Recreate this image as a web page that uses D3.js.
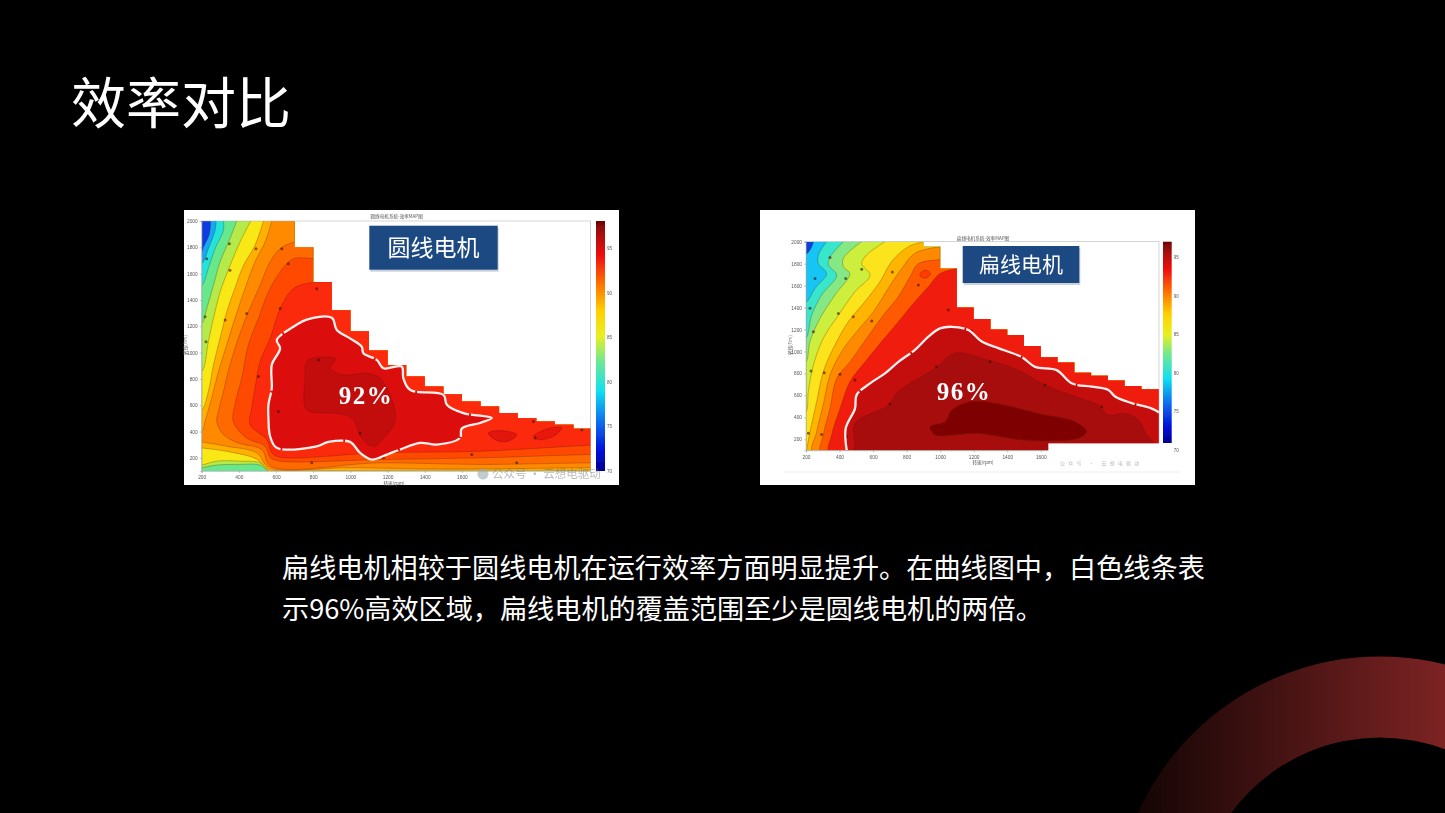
<!DOCTYPE html>
<html><head><meta charset="utf-8">
<script src="https://cdn.jsdelivr.net/npm/d3@7"></script>
<style>
html,body{margin:0;padding:0;background:#000;overflow:hidden}
svg{display:block}
text{font-family:"Noto Sans CJK SC","Noto Sans",sans-serif}
</style></head><body>
<svg id="c" width="1445" height="813"></svg>
<script>
// --- text
const titleText = "效率对比";
const bodyLines = ["扁线电机相较于圆线电机在运行效率方面明显提升。在曲线图中，白色线条表","示96%高效区域，扁线电机的覆盖范围至少是圆线电机的两倍。"];
// --- axes
const xTicks = [200,400,600,800,1000,1200,1400,1600];
const yTicks = [200,400,600,800,1000,1200,1400,1600,1800,2000];
const barTicks = [95,90,85,80,75,70];
const barStops = [[0,"#6e0505"],[0.06,"#b00c0c"],[0.14,"#f01010"],[0.26,"#ff7a00"],[0.36,"#ffd000"],[0.46,"#e8f020"],[0.56,"#70e890"],[0.68,"#10e0f0"],[0.8,"#1070f0"],[0.92,"#0010d8"],[1,"#000090"]];
// --- round-wire motor: torque limit by speed column
const roundLimit = [[200,2000],[700,2000],[800,1800],[900,1537],[1000,1322],[1100,1163],[1200,1015],[1300,906],[1400,818],[1500,742],[1600,684],[1700,629],[1800,591],[1900,540],[2000,503],[2100,477],[2200,452],[2300,422]];
// --- round-wire motor: contour curves [speed, torque]
const roundC1 = [[248,2000],[241,1900],[209,1800],[200,1765],[155,1750],[155,80],[2400,80]];
const roundC2 = [[277,2000],[272,1930],[236,1790],[200,1675],[155,1660],[155,80],[2400,80]];
const roundC3 = [[317,2000],[317,1930],[272,1790],[236,1640],[200,1510],[155,1500],[155,80],[2400,80]];
const roundC4 = [[388,2000],[352,1865],[299,1690],[263,1510],[227,1335],[200,1220],[155,1210],[155,120],[200,125],[280,145],[406,150],[514,145],[553,100],[560,80],[2400,80]];
const roundC5 = [[464,2000],[406,1840],[352,1660],[299,1460],[263,1260],[236,1085],[200,855],[155,850],[155,140],[200,145],[281,175],[406,175],[514,162],[559,100],[565,80],[2400,80]];
const roundC6 = [[532,2000],[487,1815],[424,1660],[379,1490],[335,1310],[299,1110],[263,905],[236,705],[200,565],[155,560],[155,280],[200,275],[352,245],[496,190],[559,110],[622,105],[1520,105],[2400,105]];
const roundC7 = [[577,2000],[541,1840],[487,1690],[433,1485],[379,1260],[335,1060],[290,855],[254,655],[218,477],[200,400],[155,395],[155,325],[200,320],[335,288],[496,238],[564,125],[980,125],[1520,115],[2293,125],[2400,125]];
const roundC8 = [[700,1840],[631,1800],[568,1690],[514,1510],[451,1310],[397,1108],[352,906],[317,704],[290,553],[281,477],[317,377],[397,313],[523,263],[571,137],[1160,162],[1698,150],[2293,162],[2400,162]];
const roundC9 = [[800,1713],[693,1713],[622,1612],[559,1461],[505,1259],[451,1057],[415,805],[379,604],[370,477],[442,351],[541,288],[571,200],[622,175],[1160,187],[1698,200],[2293,225],[2400,225]];
const roundC10 = [[900,1537],[783,1530],[693,1486],[622,1335],[568,1108],[514,931],[487,730],[469,578],[460,452],[550,339],[577,238],[622,205],[1160,238],[1698,250],[2293,296],[2400,300]];
const roundCurves = [roundC1,roundC2,roundC3,roundC4,roundC5,roundC6,roundC7,roundC8,roundC9,roundC10];
const roundColors = ["#12a8f5","#22e4dc","#66e88c","#b4ea48","#f8e814","#ffb000","#ff8a00","#ff6a00","#ff4a00","#fb2a0c"];
const roundBase = "#0b3ce0";
const roundWhite = [[774,1254],[900,1264],[927,1171],[998,1108],[1061,1045],[1070,995],[1142,944],[1178,881],[1276,894],[1285,805],[1321,717],[1501,679],[1519,604],[1608,540],[1761,503],[1698,465],[1599,422],[1590,351],[1465,301],[1375,313],[1267,263],[1196,225],[1115,187],[1052,238],[998,321],[882,321],[819,288],[604,276],[568,364],[559,503],[559,604],[577,730],[577,906],[622,1032],[604,1095],[693,1196]];
const roundCore = [[765,931],[819,962],[918,952],[891,881],[962,830],[1088,843],[1160,805],[1232,604],[1241,477],[1196,377],[1124,288],[1061,351],[1007,503],[909,540],[765,566],[756,805]];
const roundBlobA = [[1743,389],[1806,407],[1895,377],[1850,326],[1788,331]];
const roundBlobB = [[1985,364],[2075,427],[2137,427],[2093,364],[2012,339]];
const roundLabels = [[349,1827],[352,1625],[227,1713],[218,1272],[223,1083],[492,1789],[631,1789],[666,1675],[819,1486],[622,1335],[442,1297],[326,1247],[505,818],[613,553],[828,944],[792,162],[1052,389],[1985,477],[1994,351],[2245,414],[1653,225],[1895,162],[1178,200]];
// --- flat-wire motor: torque limit by speed column
const flatLimit = [[200,2000],[900,2000],[1000,1955],[1100,1757],[1200,1400],[1300,1295],[1400,1200],[1500,1150],[1600,1050],[1700,947],[1800,900],[1900,807],[2000,780],[2100,735],[2200,685],[2300,655],[2305,655]];
const flatC1 = [[246,2000],[224,1925],[200,1885],[160,1880],[160,80],[2400,80]];
const flatC2 = [[323,2000],[274,1880],[274,1800],[323,1710],[254,1575],[204,1450],[160,1420],[160,80],[2400,80]];
const flatC3 = [[423,2000],[343,1860],[333,1790],[383,1695],[293,1515],[234,1330],[200,1120],[160,1100],[160,80],[2400,80]];
const flatC4 = [[532,2000],[423,1850],[423,1770],[462,1710],[373,1515],[283,1300],[224,1090],[200,905],[160,880],[160,80],[2400,80]];
const flatC5 = [[671,2000],[562,1880],[532,1800],[582,1695],[492,1545],[393,1330],[303,1120],[244,875],[214,635],[200,450],[160,430],[160,80],[2400,80]];
const flatC6 = [[900,2000],[810,1955],[711,1820],[641,1635],[552,1455],[452,1270],[363,1030],[303,815],[264,545],[224,270],[204,100],[204,80],[2400,80]];
const flatC7 = [[1000,1955],[850,1895],[771,1755],[691,1575],[602,1360],[502,1180],[413,1000],[343,785],[303,515],[264,270],[244,60],[2400,60]];
const flatC8 = [[1000,1835],[870,1800],[820,1680],[751,1500],[661,1330],[562,1120],[462,905],[383,755],[343,480],[303,240],[293,60],[2400,60]];
const flatC9 = [[1100,1757],[1000,1710],[930,1590],[850,1455],[751,1270],[651,1090],[552,905],[462,725],[403,480],[353,240],[343,60],[2400,60]];
const flatCurves = [flatC1,flatC2,flatC3,flatC4,flatC5,flatC6,flatC7,flatC8,flatC9];
const flatColors = ["#14c4f6","#38e6cc","#84e884","#ccee3c","#fbe41a","#ffb400","#ff8a00","#ff5a00","#f01c10"];
const flatBase = "#0a40e0";
const flatWhite = [[443,100],[437,300],[492,480],[502,605],[582,710],[671,800],[751,905],[850,1015],[930,1135],[999,1210],[1069,1225],[1168,1195],[1248,1090],[1347,1030],[1486,950],[1566,860],[1695,830],[1784,710],[1904,680],[2003,650],[2043,590],[2142,530],[2262,480],[2305,445]];
const flatInner = [[492,150],[492,345],[691,510],[751,635],[969,845],[1089,985],[1287,920],[1466,830],[1625,695],[1804,590],[1943,510],[2003,420],[2102,435],[2182,375],[2232,240],[2271,170],[2271,60],[492,60]];
const flatCore = [[940,315],[1029,360],[1069,465],[1188,545],[1387,510],[1586,435],[1804,360],[1874,270],[1824,210],[1645,185],[1486,195],[1208,255],[1089,240],[969,240]];
const flatSpot = [[880,1710],[910,1740],[943,1710],[919,1670],[884,1680]];
const flatLabels = [[343,1855],[254,1665],[437,1665],[532,1750],[715,1725],[224,1393],[393,1347],[482,1317],[592,1277],[244,1180],[230,822],[309,807],[403,792],[492,740],[214,255],[293,245],[443,225],[701,522],[979,860],[1297,907],[1625,695],[1188,1186],[1049,1378],[870,1605],[1963,497],[2142,528]];

const svg = d3.select("#c");
const defs = svg.append("defs");
svg.append("rect").attr("width",1445).attr("height",813).attr("fill","#000");

// decorative ring (gradient coordinates are local to the translated arc)
const ringGrad = defs.append("linearGradient").attr("id","ring").attr("gradientUnits","userSpaceOnUse")
  .attr("x1",-250).attr("x2",65).attr("y1",0).attr("y2",0);
ringGrad.append("stop").attr("offset",0).attr("stop-color","#120404");
ringGrad.append("stop").attr("offset",1).attr("stop-color","#7d2323");
svg.append("path").attr("transform","translate(1380,922)")
  .attr("d",d3.arc().innerRadius(184.5).outerRadius(265.5).startAngle(-Math.PI/2).endAngle(Math.PI/2)())
  .attr("fill","url(#ring)");

svg.append("text").text(titleText).attr("x",71).attr("y",123).attr("font-size",55).attr("font-weight",400).attr("fill","#fff");
svg.selectAll("text.body").data(bodyLines).join("text").attr("class","body").text(d=>d)
  .attr("x",282).attr("y",(d,i)=>578+i*41).attr("font-size",27.15).attr("font-weight",400).attr("fill","#fff");

const blur = defs.append("filter").attr("id","soft").attr("x","-5%").attr("y","-5%").attr("width","110%").attr("height","110%");
blur.append("feGaussianBlur").attr("stdDeviation",0.7);
const barGrad = defs.append("linearGradient").attr("id","jet").attr("x1",0).attr("x2",0).attr("y1",0).attr("y2",1);
barStops.forEach(s=>barGrad.append("stop").attr("offset",s[0]).attr("stop-color",s[1]));

function drawPanel(cfg){
  svg.append("rect").attr("x",cfg.panel[0]).attr("y",cfg.panel[1]).attr("width",435).attr("height",275).attr("fill","#fff");
  const g = svg.append("g").attr("filter","url(#soft)");
  const x = d3.scaleLinear().domain(cfg.xDom).range(cfg.xRange);
  const y = d3.scaleLinear().domain([100,2000]).range(cfg.yRange);
  const smooth = d3.line().x(d=>x(d[0])).y(d=>y(d[1])).curve(d3.curveCatmullRom.alpha(0.5));
  const closed = d3.line().x(d=>x(d[0])).y(d=>y(d[1])).curve(d3.curveCatmullRomClosed.alpha(0.5));
  const step = d3.line().x(d=>x(d[0])).y(d=>y(d[1])).curve(d3.curveStepBefore);
  const id = "clip"+cfg.key;
  const last = cfg.limit[cfg.limit.length-1];
  const clipD = step(cfg.limit)+`L${x(last[0])},${y(100)}L${x(200)},${y(100)}Z`;
  defs.append("clipPath").attr("id",id).append("path").attr("d",clipD);
  const idp = "plot"+cfg.key;
  defs.append("clipPath").attr("id",idp).append("rect").attr("x",cfg.xRange[0]).attr("y",cfg.yRange[1]).attr("width",cfg.xRange[1]-cfg.xRange[0]).attr("height",cfg.yRange[0]-cfg.yRange[1]);
  const outer = g.append("g").attr("clip-path",`url(#${idp})`);
  const plot = outer.append("g").attr("clip-path",`url(#${id})`);
  plot.append("rect").attr("x",x(200)).attr("y",y(2000)).attr("width",x(cfg.xDom[1])-x(200)).attr("height",y(100)-y(2000)).attr("fill",cfg.base);
  const edge = {stroke:"#5a1400","stroke-width":0.5,"stroke-opacity":0.55};
  function shape(d,fill){const p=plot.append("path").attr("d",d).attr("fill",fill);Object.entries(edge).forEach(([k,v])=>p.attr(k,v));return p;}
  cfg.curves.forEach((c,i)=>{
    shape(smooth(c)+`L${x(2400)},${y(c[c.length-1][1])}L${x(2400)},${y(2100)}L${x(c[0][0])},${y(2100)}Z`,cfg.colors[i]);
  });
  cfg.fills.forEach(f=>{
    const d = f.open ? smooth(f.pts)+"Z" : closed(f.pts);
    shape(d,f.color);
  });
  plot.selectAll("circle").data(cfg.labels).join("circle").attr("cx",d=>x(d[0])).attr("cy",d=>y(d[1])).attr("r",1.5).attr("fill","#3a1000").attr("opacity",0.6);
  plot.append("path").attr("d",cfg.whiteClosed?closed(cfg.white):smooth(cfg.white)).attr("fill","none")
    .attr("stroke","#fdf0ee").attr("stroke-width",2.3).attr("stroke-dasharray","62 1.8");
  // frame and axes
  g.append("rect").attr("x",cfg.xRange[0]).attr("y",cfg.yRange[1]).attr("width",cfg.xRange[1]-cfg.xRange[0]).attr("height",cfg.yRange[0]-cfg.yRange[1]).attr("fill","none").attr("stroke","#aaa").attr("stroke-width",0.5);
  const ax = g.append("g").attr("transform",`translate(0,${cfg.yRange[0]})`).call(d3.axisBottom(x).tickValues(xTicks).tickSize(2).tickPadding(3).tickFormat(d3.format("d")));
  const ay = g.append("g").attr("transform",`translate(${cfg.xRange[0]},0)`).call(d3.axisLeft(y).tickValues(yTicks).tickSize(2).tickPadding(2).tickFormat(d3.format("d")));
  [ax,ay].forEach(a=>{a.select(".domain").attr("stroke","#999").attr("stroke-width",0.4);a.selectAll("line").attr("stroke","#777").attr("stroke-width",0.4);a.selectAll("text").attr("font-size",4.8).attr("fill","#555").style("font-family","'Liberation Sans'");});
  g.append("text").text(cfg.chartTitle).attr("x",cfg.titlePos[0]).attr("y",cfg.titlePos[1]).attr("text-anchor","middle").attr("font-size",4.6).attr("fill","#555");
  g.append("text").text("转速(rpm)").attr("x",cfg.xTitlePos[0]).attr("y",cfg.xTitlePos[1]).attr("text-anchor","middle").attr("font-size",4.6).attr("fill","#555");
  g.append("text").text("转矩(Nm)").attr("transform",`translate(${cfg.yTitlePos[0]},${cfg.yTitlePos[1]}) rotate(-90)`).attr("text-anchor","middle").attr("font-size",4.6).attr("fill","#555");
  // colour bar
  g.append("rect").attr("x",cfg.bar[0]).attr("y",cfg.bar[1]).attr("width",cfg.bar[2]).attr("height",cfg.bar[3]).attr("fill","url(#jet)");
  const by = d3.scaleLinear().domain([95,70]).range(cfg.barRange);
  const ab = g.append("g").attr("transform",`translate(${cfg.bar[0]+cfg.bar[2]},0)`).call(d3.axisRight(by).tickValues(barTicks).tickSize(0).tickPadding(2));
  ab.select(".domain").remove();
  ab.selectAll("text").attr("font-size",4.5).attr("fill","#555").style("font-family","'Liberation Sans'");
  // patch
  if(cfg.patch){
    g.append("rect").attr("x",x(cfg.patch[0])).attr("y",y(cfg.patch[1])).attr("width",cfg.xRange[1]-x(cfg.patch[0])+1).attr("height",cfg.panel[1]+275-y(cfg.patch[1])-12).attr("fill","#fff");
    g.append("line").attr("x1",cfg.panel[0]+24).attr("x2",cfg.panel[0]+420).attr("y1",472).attr("y2",472).attr("stroke","#eee").attr("stroke-width",1);
    g.append("text").text("公众号 · 云想电驱动").attr("x",cfg.panel[0]+300).attr("y",465).attr("font-size",5).attr("letter-spacing",3.2).attr("fill","#bbb");
  }
  if(cfg.mark){
    g.append("circle").attr("cx",cfg.mark[0]).attr("cy",cfg.mark[1]).attr("r",5.5).attr("fill","#9aa").attr("opacity",0.6);
    g.append("text").text("公众号 · 云想电驱动").attr("x",cfg.mark[0]+9).attr("y",cfg.mark[1]+4).attr("font-size",11.5).attr("fill","#777").attr("opacity",0.5);
  }
  // badge
  const b = cfg.badge;
  g.append("rect").attr("x",b[0]+1).attr("y",b[1]+2).attr("width",b[2]).attr("height",b[3]).attr("fill","#9aa4b4").attr("opacity",0.5);
  g.append("rect").attr("x",b[0]).attr("y",b[1]).attr("width",b[2]).attr("height",b[3]).attr("fill","#1f4a82");
  g.append("text").text(cfg.badgeText).attr("x",b[0]+b[2]/2).attr("y",b[1]+b[3]/2+b[4]*0.36).attr("text-anchor","middle").attr("font-size",b[4]).attr("font-weight",400).attr("fill","#fff");
  // percent
  g.append("text").text(cfg.pct).attr("x",cfg.pctPos[0]).attr("y",cfg.pctPos[1]).attr("text-anchor","middle").attr("font-size",25).attr("font-weight",700).attr("letter-spacing",1.5).attr("fill","#fff").style("font-family","'Liberation Serif'");
}

drawPanel({key:"a",panel:[184,210],xDom:[200,2293],xRange:[201.7,590.7],yRange:[471,221],limit:roundLimit,
  base:roundBase,curves:roundCurves,colors:roundColors,
  fills:[{pts:roundWhite,color:"#dc100c"},{pts:roundCore,color:"#c30f0e"},{pts:roundBlobA,color:"#e2130c"},{pts:roundBlobB,color:"#e8160c"}],
  white:roundWhite,whiteClosed:true,labels:roundLabels,
  chartTitle:"圆线电机系统-效率MAP图",titlePos:[396.7,218],xTitlePos:[394,484.5],yTitlePos:[187,345],
  bar:[596,221,9,250],barRange:[248,471],badge:[369.3,225.7,128.4,44,23],badgeText:"圆线电机",
  pct:"92%",pctPos:[366,404],mark:[483,474]});

drawPanel({key:"b",panel:[760,210],xDom:[200,2305],xRange:[806,1159],yRange:[450.3,241.7],limit:flatLimit,
  base:flatBase,curves:flatCurves,colors:flatColors,
  fills:[{pts:flatSpot,color:"#ff3a00"},{pts:flatWhite.concat([[2400,440],[2400,60],[443,60]]),color:"#c40f10",open:true},{pts:flatInner,color:"#a80b0b"},{pts:flatCore,color:"#7e0606"}],
  white:flatWhite,whiteClosed:false,labels:flatLabels,
  chartTitle:"扁线电机系统-效率MAP图",titlePos:[983,240],xTitlePos:[983,464],yTitlePos:[792,345],
  bar:[1163,241.7,8.7,201.3],barRange:[257.3,450],badge:[962.7,246,116.6,37,21],badgeText:"扁线电机",
  pct:"96%",pctPos:[964,400],patch:[1645,163]});
</script>
</body></html>
